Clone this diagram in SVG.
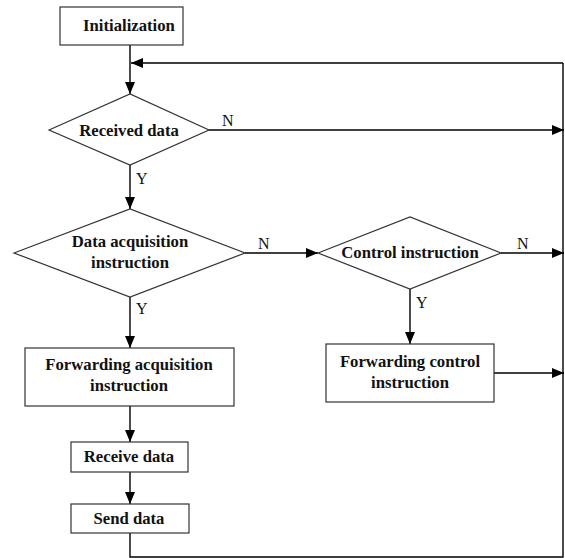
<svg xmlns="http://www.w3.org/2000/svg" width="565" height="558" viewBox="0 0 565 558">
<defs>
<marker id="ah" markerWidth="12" markerHeight="10" viewBox="0 0 12 10" refX="12" refY="5" orient="auto" markerUnits="userSpaceOnUse">
<path d="M0,0 L12,5 L0,10 Z" fill="#000"/>
</marker>
<style>
.box{fill:#fff;stroke:#333;stroke-width:1.2}
.t{font-family:"Liberation Serif","Times New Roman",serif;font-weight:bold;font-size:16.7px;text-anchor:middle;fill:#111}
.lb{font-family:"Liberation Serif","Times New Roman",serif;font-size:16px;fill:#111}
.c{fill:none;stroke:#000;stroke-width:1.4}
</style>
</defs>
<rect width="565" height="558" fill="#fff"/>
<g id="connectors">
<path class="c" d="M130,45 V94" marker-end="url(#ah)"/>
<path class="c" d="M563,63 H131" marker-end="url(#ah)"/>
<path class="c" d="M209,130 H564" marker-end="url(#ah)"/>
<path class="c" d="M130,165 V209" marker-end="url(#ah)"/>
<path class="c" d="M245,253 H318" marker-end="url(#ah)"/>
<path class="c" d="M501,253 H564" marker-end="url(#ah)"/>
<path class="c" d="M410,289 V344" marker-end="url(#ah)"/>
<path class="c" d="M494,373 H564" marker-end="url(#ah)"/>
<path class="c" d="M130,297 V348" marker-end="url(#ah)"/>
<path class="c" d="M130,406 V442" marker-end="url(#ah)"/>
<path class="c" d="M130,472 V504" marker-end="url(#ah)"/>
<path class="c" d="M130,533 V557 H563 V63"/>
<text class="lb" x="222" y="126">N</text>
<text class="lb" x="136" y="184">Y</text>
<text class="lb" x="258" y="249">N</text>
<text class="lb" x="517" y="249">N</text>
<text class="lb" x="416" y="308">Y</text>
<text class="lb" x="136" y="314">Y</text>
</g>
<g id="init">
<rect class="box" x="60" y="7" width="123" height="38"/>
<text class="t" x="129" y="31">Initialization</text>
</g>
<g id="received">
<polygon class="box" points="49,130 130,94 209,130 130,165"/>
<text class="t" x="129" y="136">Received data</text>
</g>
<g id="dataacq">
<polygon class="box" points="14,253 130,209 245,253 130,297"/>
<text class="t" x="130" y="247">Data acquisition</text>
<text class="t" x="130" y="268">instruction</text>
</g>
<g id="control">
<polygon class="box" points="318,253 410,217 501,253 410,289"/>
<text class="t" x="410" y="258">Control instruction</text>
</g>
<g id="fwdacq">
<rect class="box" x="25" y="348" width="209" height="58"/>
<text class="t" x="129" y="370">Forwarding acquisition</text>
<text class="t" x="129" y="391">instruction</text>
</g>
<g id="fwdctrl">
<rect class="box" x="326" y="344" width="168" height="58"/>
<text class="t" x="410" y="367">Forwarding control</text>
<text class="t" x="410" y="388">instruction</text>
</g>
<g id="receive">
<rect class="box" x="71" y="442" width="117" height="30"/>
<text class="t" x="129" y="462">Receive data</text>
</g>
<g id="send">
<rect class="box" x="71" y="504" width="118" height="29"/>
<text class="t" x="129" y="524">Send data</text>
</g>
</svg>
